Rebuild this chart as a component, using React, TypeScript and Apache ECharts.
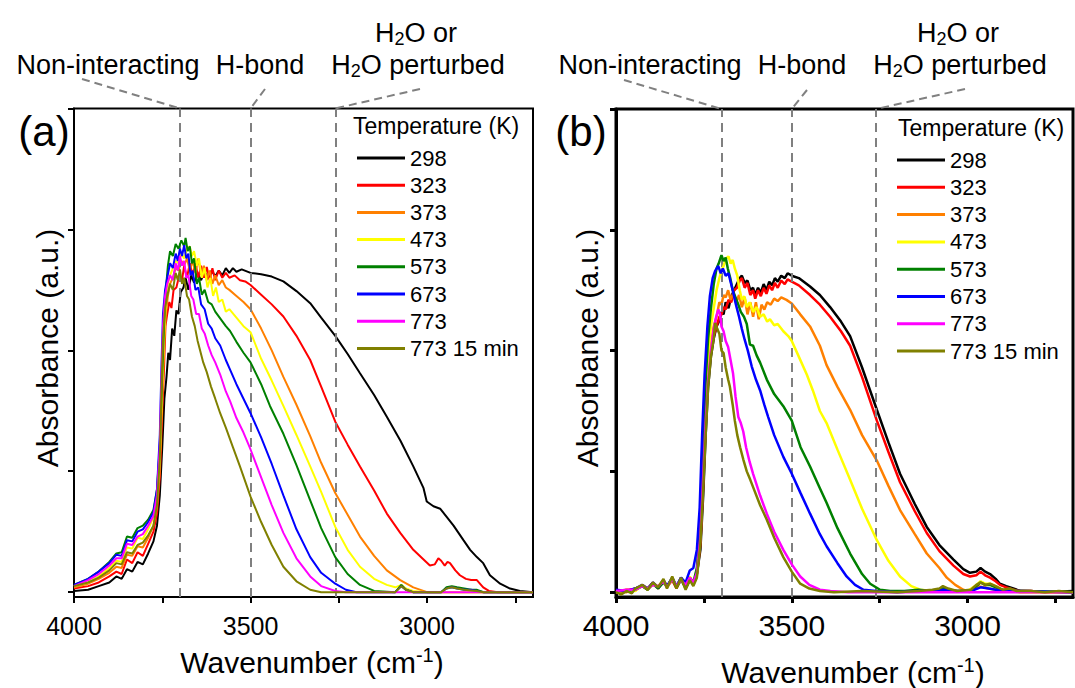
import React, { useEffect, useRef } from 'react';
import * as echarts from 'echarts';

const TEMPS = ['298', '323', '373', '473', '573', '673', '773', '773 15 min'];
const COLORS = ['#000000', '#ff0000', '#ff8000', '#ffff00', '#008000', '#0000ff', '#ff00ff', '#808000'];
const X_TICKS = [2750, 3000, 3250, 3500, 3750, 4000];
const X_LABELS = [3000, 3500, 4000];
const Y_TICKS = [0, 1, 2, 3, 4];
const REGION_LINES = [3700, 3500, 3260];

// ---- Panel (a) ----
const A_298: number[][] = [[4000,0.01],[3960,0.02],[3930,0.05],[3900,0.08],[3880,0.13],[3865,0.11],[3850,0.19],[3835,0.17],[3820,0.25],[3805,0.23],[3790,0.32],[3775,0.42],[3765,0.55],[3757,0.8],[3750,1.2],[3744,1.6],[3738,1.78],[3733,1.98],[3728,1.92],[3722,2.18],[3716,2.12],[3710,2.33],[3704,2.3],[3698,2.48],[3690,2.52],[3684,2.6],[3676,2.5],[3668,2.62],[3660,2.56],[3650,2.64],[3640,2.58],[3630,2.65],[3620,2.6],[3610,2.66],[3600,2.61],[3590,2.66],[3580,2.62],[3570,2.68],[3560,2.64],[3550,2.68],[3540,2.65],[3525,2.67],[3500,2.64],[3470,2.63],[3440,2.61],[3407,2.57],[3370,2.49],[3331,2.39],[3300,2.27],[3260,2.12],[3225,1.97],[3190,1.81],[3150,1.63],[3114,1.45],[3075,1.25],[3039,1.04],[3010,0.86],[3001,0.75],[2982,0.71],[2963,0.69],[2944,0.62],[2925,0.55],[2897,0.43],[2878,0.35],[2859,0.29],[2841,0.24],[2822,0.14],[2793,0.07],[2765,0.03],[2737,0.01],[2700,0]];
const A_323: number[][] = [[4000,0.03],[3960,0.05],[3930,0.08],[3900,0.13],[3880,0.17],[3865,0.15],[3850,0.27],[3835,0.24],[3820,0.33],[3805,0.3],[3790,0.4],[3775,0.5],[3765,0.65],[3757,0.95],[3750,1.5],[3745,1.85],[3741,2.2],[3736,2.3],[3730,2.4],[3724,2.35],[3718,2.5],[3710,2.52],[3702,2.62],[3694,2.58],[3688,2.7],[3680,2.6],[3672,2.72],[3664,2.62],[3656,2.72],[3648,2.6],[3640,2.7],[3632,2.6],[3624,2.69],[3616,2.58],[3608,2.68],[3600,2.58],[3590,2.66],[3580,2.6],[3570,2.64],[3560,2.6],[3545,2.62],[3530,2.58],[3515,2.57],[3500,2.54],[3470,2.46],[3440,2.38],[3407,2.28],[3370,2.12],[3331,1.92],[3300,1.7],[3260,1.41],[3225,1.22],[3190,1.04],[3150,0.84],[3114,0.65],[3076,0.49],[3039,0.35],[3010,0.27],[2992,0.22],[2978,0.23],[2968,0.28],[2960,0.26],[2950,0.22],[2942,0.25],[2935,0.24],[2920,0.18],[2907,0.14],[2890,0.11],[2875,0.1],[2859,0.1],[2841,0.04],[2825,0.01],[2800,0],[2700,0]];
const A_373: number[][] = [[4000,0.04],[3960,0.07],[3930,0.11],[3900,0.16],[3880,0.21],[3865,0.2],[3850,0.31],[3835,0.3],[3820,0.38],[3805,0.37],[3790,0.45],[3775,0.55],[3765,0.7],[3757,1.0],[3750,1.6],[3745,2.0],[3740,2.3],[3734,2.45],[3728,2.55],[3720,2.6],[3712,2.68],[3704,2.66],[3696,2.74],[3688,2.7],[3680,2.76],[3672,2.66],[3664,2.74],[3656,2.64],[3648,2.76],[3640,2.62],[3632,2.7],[3624,2.58],[3616,2.66],[3608,2.55],[3600,2.62],[3590,2.54],[3580,2.58],[3570,2.52],[3560,2.5],[3540,2.45],[3520,2.4],[3500,2.34],[3470,2.18],[3440,2.0],[3407,1.78],[3370,1.55],[3331,1.29],[3300,1.07],[3260,0.82],[3225,0.64],[3190,0.46],[3150,0.3],[3114,0.18],[3076,0.1],[3039,0.04],[3000,0],[2700,0]];
const A_473: number[][] = [[4000,0.05],[3960,0.08],[3930,0.13],[3900,0.2],[3880,0.26],[3865,0.25],[3850,0.37],[3835,0.36],[3820,0.45],[3805,0.44],[3790,0.52],[3775,0.62],[3765,0.78],[3757,1.1],[3750,1.7],[3745,2.1],[3740,2.4],[3734,2.55],[3728,2.62],[3720,2.68],[3712,2.74],[3704,2.72],[3696,2.8],[3688,2.76],[3680,2.84],[3672,2.86],[3666,2.78],[3660,2.82],[3652,2.7],[3646,2.76],[3638,2.6],[3630,2.68],[3622,2.52],[3614,2.6],[3606,2.45],[3598,2.52],[3590,2.4],[3580,2.42],[3570,2.32],[3560,2.34],[3540,2.27],[3520,2.2],[3500,2.15],[3470,1.93],[3440,1.75],[3407,1.54],[3370,1.3],[3331,1.04],[3300,0.83],[3260,0.54],[3225,0.35],[3190,0.21],[3150,0.11],[3114,0.06],[3090,0.04],[3073,0.06],[3060,0.03],[3040,0.01],[3000,0],[2700,0]];
const A_573: number[][] = [[4000,0.06],[3960,0.11],[3930,0.17],[3900,0.25],[3880,0.32],[3865,0.33],[3850,0.46],[3835,0.45],[3820,0.53],[3805,0.55],[3790,0.6],[3775,0.68],[3765,0.85],[3757,1.2],[3750,1.8],[3745,2.2],[3740,2.5],[3734,2.7],[3728,2.82],[3720,2.78],[3712,2.88],[3704,2.84],[3696,2.91],[3688,2.86],[3684,2.93],[3678,2.82],[3672,2.86],[3666,2.72],[3660,2.76],[3652,2.55],[3646,2.6],[3638,2.46],[3630,2.5],[3620,2.4],[3610,2.38],[3600,2.32],[3585,2.26],[3570,2.2],[3558,2.16],[3540,2.07],[3520,1.98],[3500,1.9],[3470,1.72],[3445,1.54],[3407,1.31],[3370,1.05],[3331,0.76],[3300,0.53],[3260,0.29],[3225,0.15],[3190,0.06],[3150,0.01],[3090,0],[3073,0.06],[3060,0.02],[3040,0],[2960,0],[2945,0.04],[2930,0.05],[2915,0.04],[2895,0.03],[2875,0.02],[2860,0.02],[2840,0],[2700,0]];
const A_673: number[][] = [[4000,0.06],[3960,0.11],[3930,0.17],[3900,0.24],[3880,0.31],[3865,0.3],[3850,0.43],[3835,0.42],[3820,0.5],[3805,0.52],[3790,0.58],[3775,0.66],[3765,0.85],[3757,1.3],[3752,1.9],[3748,2.3],[3742,2.5],[3736,2.6],[3728,2.72],[3720,2.68],[3712,2.8],[3706,2.74],[3700,2.84],[3694,2.78],[3688,2.87],[3682,2.76],[3676,2.8],[3670,2.62],[3664,2.66],[3656,2.5],[3648,2.52],[3640,2.38],[3630,2.34],[3620,2.22],[3610,2.18],[3600,2.1],[3586,2.04],[3570,1.92],[3558,1.84],[3540,1.72],[3520,1.6],[3500,1.48],[3470,1.28],[3440,1.06],[3407,0.8],[3370,0.52],[3331,0.29],[3300,0.16],[3260,0.07],[3230,0.02],[3200,0],[3090,0],[3073,0.05],[3060,0.02],[3040,0],[2960,0],[2945,0.03],[2930,0.04],[2915,0.03],[2895,0.02],[2875,0.02],[2860,0.01],[2840,0],[2700,0]];
const A_773: number[][] = [[4000,0.05],[3960,0.1],[3930,0.15],[3900,0.22],[3880,0.28],[3865,0.28],[3850,0.4],[3835,0.39],[3820,0.46],[3805,0.48],[3790,0.55],[3775,0.63],[3765,0.8],[3757,1.2],[3752,1.8],[3748,2.2],[3742,2.45],[3736,2.55],[3728,2.62],[3720,2.58],[3712,2.72],[3706,2.66],[3700,2.78],[3694,2.7],[3688,2.74],[3682,2.6],[3676,2.62],[3668,2.45],[3662,2.42],[3654,2.3],[3646,2.3],[3638,2.18],[3630,2.14],[3620,2.04],[3610,1.96],[3600,1.9],[3586,1.8],[3570,1.66],[3558,1.58],[3540,1.44],[3520,1.32],[3500,1.18],[3470,0.95],[3440,0.72],[3407,0.49],[3370,0.28],[3331,0.13],[3300,0.05],[3260,0.01],[3230,0],[2700,0]];
const A_773_15: number[][] = [[4000,0.05],[3960,0.08],[3930,0.12],[3900,0.18],[3880,0.24],[3865,0.23],[3850,0.33],[3835,0.32],[3820,0.39],[3805,0.41],[3790,0.47],[3775,0.55],[3765,0.72],[3757,1.1],[3752,1.7],[3748,2.1],[3742,2.35],[3736,2.45],[3728,2.55],[3720,2.5],[3712,2.64],[3706,2.58],[3700,2.67],[3694,2.55],[3688,2.6],[3680,2.45],[3674,2.42],[3666,2.28],[3658,2.2],[3650,2.08],[3643,2.0],[3634,1.9],[3624,1.82],[3612,1.7],[3600,1.6],[3586,1.48],[3570,1.36],[3550,1.2],[3530,1.04],[3500,0.79],[3470,0.58],[3440,0.39],[3407,0.21],[3370,0.09],[3331,0.02],[3300,0],[3090,0],[3073,0.05],[3060,0.02],[3040,0],[2960,0],[2945,0.03],[2930,0.04],[2915,0.03],[2895,0.02],[2860,0.01],[2840,0],[2700,0]];

// ---- Panel (b) ----
const B_298: number[][] = [[4000,0],[3970,0.01],[3945,0.03],[3925,0.05],[3910,0.03],[3895,0.07],[3880,0.04],[3865,0.09],[3855,0.05],[3840,0.11],[3828,0.04],[3815,0.12],[3802,0.03],[3790,0.1],[3780,0.08],[3770,0.15],[3760,0.35],[3752,0.8],[3745,1.3],[3738,1.7],[3730,1.95],[3722,2.1],[3714,2.2],[3706,2.25],[3700,2.32],[3694,2.3],[3688,2.4],[3680,2.35],[3672,2.45],[3664,2.5],[3656,2.55],[3648,2.6],[3642,2.62],[3634,2.56],[3626,2.58],[3618,2.5],[3610,2.52],[3604,2.46],[3596,2.52],[3588,2.48],[3580,2.55],[3572,2.5],[3564,2.57],[3556,2.54],[3548,2.6],[3540,2.57],[3530,2.62],[3520,2.6],[3512,2.64],[3500,2.62],[3480,2.6],[3448,2.53],[3420,2.46],[3391,2.36],[3360,2.24],[3334,2.12],[3300,1.86],[3258,1.51],[3225,1.24],[3192,0.98],[3150,0.73],[3116,0.54],[3080,0.39],[3040,0.27],[3012,0.19],[2993,0.16],[2975,0.17],[2963,0.2],[2950,0.17],[2936,0.15],[2920,0.11],[2908,0.07],[2890,0.05],[2870,0.03],[2850,0.01],[2820,0.01],[2780,0],[2700,0.01]];
const B_323: number[][] = [[4000,0],[3970,0.02],[3945,0.02],[3925,0.06],[3910,0.03],[3895,0.08],[3880,0.03],[3865,0.1],[3855,0.05],[3840,0.1],[3828,0.03],[3815,0.11],[3802,0.04],[3790,0.12],[3780,0.06],[3770,0.14],[3760,0.4],[3752,0.9],[3745,1.4],[3738,1.8],[3730,2.0],[3722,2.12],[3714,2.2],[3706,2.28],[3700,2.3],[3694,2.36],[3688,2.34],[3680,2.42],[3672,2.4],[3664,2.5],[3656,2.52],[3648,2.58],[3642,2.6],[3634,2.52],[3626,2.56],[3618,2.46],[3610,2.5],[3604,2.43],[3596,2.5],[3588,2.45],[3580,2.52],[3572,2.47],[3564,2.54],[3556,2.5],[3548,2.56],[3540,2.52],[3530,2.58],[3520,2.55],[3512,2.59],[3500,2.57],[3480,2.54],[3448,2.46],[3420,2.38],[3391,2.28],[3360,2.16],[3334,2.04],[3300,1.78],[3258,1.42],[3225,1.16],[3192,0.91],[3150,0.67],[3116,0.49],[3080,0.34],[3040,0.22],[3012,0.15],[2993,0.13],[2975,0.14],[2963,0.17],[2950,0.14],[2936,0.12],[2920,0.09],[2908,0.06],[2890,0.04],[2870,0.02],[2850,0.01],[2820,0.01],[2780,0],[2700,0]];
const B_373: number[][] = [[4000,0.01],[3970,0],[3945,0.03],[3925,0.05],[3910,0.02],[3895,0.07],[3880,0.04],[3865,0.09],[3855,0.04],[3840,0.1],[3828,0.04],[3815,0.12],[3802,0.05],[3790,0.11],[3780,0.07],[3770,0.16],[3760,0.45],[3752,1.0],[3745,1.5],[3738,1.85],[3730,2.05],[3722,2.2],[3714,2.28],[3706,2.4],[3700,2.38],[3694,2.46],[3688,2.44],[3681,2.5],[3674,2.42],[3666,2.48],[3658,2.4],[3650,2.46],[3642,2.36],[3634,2.44],[3626,2.3],[3618,2.4],[3610,2.28],[3602,2.4],[3594,2.26],[3586,2.38],[3578,2.34],[3570,2.4],[3560,2.38],[3550,2.43],[3540,2.41],[3530,2.44],[3515,2.42],[3500,2.39],[3476,2.3],[3448,2.2],[3420,2.04],[3401,1.88],[3370,1.7],[3334,1.51],[3300,1.3],[3258,1.09],[3225,0.88],[3192,0.68],[3150,0.48],[3116,0.32],[3080,0.2],[3059,0.12],[3035,0.06],[3012,0.02],[2995,0],[2970,0.05],[2955,0.04],[2940,0.03],[2920,0.02],[2900,0.01],[2880,0.02],[2850,0],[2700,0]];
const B_473: number[][] = [[4000,0],[3970,0.02],[3945,0.01],[3925,0.06],[3910,0.03],[3895,0.06],[3880,0.05],[3865,0.1],[3855,0.04],[3840,0.12],[3828,0.05],[3815,0.1],[3802,0.05],[3790,0.13],[3780,0.07],[3770,0.18],[3760,0.5],[3752,1.1],[3745,1.6],[3738,1.95],[3730,2.2],[3722,2.35],[3714,2.5],[3706,2.6],[3700,2.66],[3694,2.7],[3688,2.76],[3680,2.78],[3674,2.72],[3668,2.75],[3662,2.68],[3655,2.62],[3648,2.5],[3642,2.42],[3635,2.45],[3628,2.36],[3620,2.4],[3610,2.32],[3600,2.36],[3590,2.28],[3580,2.3],[3570,2.24],[3562,2.26],[3550,2.21],[3540,2.22],[3524,2.16],[3510,2.12],[3500,2.08],[3480,1.95],[3457,1.8],[3440,1.67],[3420,1.5],[3401,1.4],[3370,1.18],[3334,0.93],[3300,0.69],[3258,0.43],[3225,0.26],[3192,0.13],[3160,0.05],[3135,0.02],[3100,0.01],[3080,0.02],[3070,0.04],[3055,0.02],[3030,0.01],[3000,0.01],[2975,0.06],[2963,0.09],[2950,0.07],[2936,0.07],[2920,0.05],[2900,0.02],[2880,0.01],[2850,0],[2700,0]];
const B_573: number[][] = [[4000,0.01],[3970,0.01],[3945,0.02],[3925,0.05],[3910,0.02],[3895,0.07],[3880,0.03],[3865,0.08],[3855,0.05],[3840,0.11],[3828,0.04],[3815,0.1],[3802,0.04],[3790,0.12],[3780,0.08],[3770,0.2],[3760,0.55],[3752,1.2],[3745,1.75],[3738,2.1],[3730,2.35],[3722,2.55],[3714,2.68],[3708,2.72],[3700,2.79],[3694,2.74],[3688,2.77],[3682,2.68],[3675,2.6],[3668,2.5],[3660,2.44],[3652,2.38],[3645,2.32],[3636,2.28],[3628,2.22],[3619,2.05],[3610,2.04],[3600,1.96],[3590,1.9],[3571,1.76],[3550,1.64],[3524,1.54],[3500,1.42],[3475,1.2],[3448,1.04],[3420,0.86],[3401,0.74],[3370,0.53],[3334,0.32],[3300,0.15],[3277,0.07],[3249,0.02],[3220,0.01],[3180,0.01],[3140,0.02],[3100,0.01],[3080,0.02],[3070,0.04],[3055,0.02],[3030,0.01],[2990,0.01],[2975,0.05],[2963,0.08],[2950,0.06],[2936,0.06],[2920,0.04],[2900,0.02],[2880,0.01],[2850,0.01],[2700,0]];
const B_673: number[][] = [[4000,0.02],[3970,0.01],[3945,0.03],[3925,0.06],[3910,0.03],[3895,0.08],[3880,0.04],[3865,0.1],[3855,0.05],[3840,0.12],[3828,0.05],[3815,0.12],[3802,0.08],[3790,0.18],[3780,0.2],[3770,0.35],[3762,0.7],[3755,1.3],[3748,1.8],[3740,2.2],[3733,2.45],[3725,2.6],[3718,2.66],[3709,2.7],[3702,2.64],[3696,2.68],[3688,2.62],[3680,2.64],[3675,2.58],[3668,2.5],[3662,2.42],[3657,2.36],[3650,2.28],[3642,2.18],[3634,2.09],[3625,2.0],[3614,1.87],[3602,1.76],[3590,1.67],[3578,1.55],[3567,1.45],[3550,1.3],[3524,1.12],[3500,0.98],[3475,0.82],[3448,0.65],[3420,0.48],[3401,0.38],[3370,0.24],[3344,0.13],[3320,0.06],[3296,0.02],[3260,0.01],[3200,0],[3140,0.01],[3100,0.01],[3070,0.02],[3040,0.01],[2990,0.01],[2963,0.04],[2940,0.03],[2900,0.01],[2850,0.01],[2700,0]];
const B_773: number[][] = [[4000,0.01],[3970,0.02],[3945,0.02],[3925,0.05],[3910,0.03],[3895,0.06],[3880,0.05],[3865,0.09],[3855,0.04],[3840,0.11],[3828,0.05],[3815,0.1],[3802,0.06],[3790,0.12],[3780,0.08],[3770,0.16],[3760,0.45],[3752,0.95],[3745,1.4],[3738,1.75],[3730,2.0],[3722,2.18],[3715,2.28],[3709,2.34],[3704,2.3],[3700,2.2],[3694,2.16],[3688,2.08],[3681,2.03],[3674,1.92],[3667,1.81],[3660,1.62],[3652,1.45],[3645,1.4],[3638,1.33],[3630,1.2],[3620,1.08],[3610,0.98],[3590,0.8],[3571,0.65],[3550,0.5],[3524,0.35],[3500,0.23],[3476,0.13],[3450,0.06],[3420,0.02],[3390,0.01],[3340,0],[2700,0]];
const B_773_15: number[][] = [[4000,0],[3985,-0.02],[3970,0.01],[3955,-0.01],[3945,0.03],[3925,0.06],[3910,0.02],[3895,0.08],[3880,0.04],[3865,0.11],[3855,0.03],[3840,0.13],[3828,0.03],[3815,0.12],[3802,0.02],[3790,0.1],[3780,0.05],[3770,0.12],[3760,0.4],[3752,0.85],[3745,1.3],[3738,1.7],[3730,1.95],[3722,2.1],[3718,2.23],[3712,2.18],[3706,2.14],[3700,2.0],[3694,1.98],[3688,1.86],[3681,1.76],[3676,1.7],[3668,1.55],[3662,1.42],[3655,1.3],[3647,1.2],[3638,1.1],[3628,1.0],[3618,0.93],[3610,0.87],[3590,0.72],[3571,0.6],[3550,0.45],[3524,0.29],[3500,0.17],[3476,0.07],[3450,0.03],[3420,0.01],[3380,0],[3300,0.01],[3200,0],[3140,0.01],[3100,0.02],[3080,0.03],[3070,0.05],[3055,0.03],[3030,0.01],[2990,0.02],[2975,0.06],[2963,0.08],[2950,0.06],[2936,0.07],[2920,0.05],[2900,0.02],[2880,0.03],[2860,0.01],[2820,0.01],[2780,0],[2740,0.01],[2700,0]];

const PANEL_A = [A_298, A_323, A_373, A_473, A_573, A_673, A_773, A_773_15];
const PANEL_B = [B_298, B_323, B_373, B_473, B_573, B_673, B_773, B_773_15];

const FONT = '"Liberation Sans", Arial, sans-serif';

function axisPair(grid: number, bw: number, labelSize: number, labelMargin: number) {
  const xAxis = {
    gridIndex: grid, type: 'value', min: 2700, max: 4000, inverse: true,
    axisLine: { show: true, onZero: false, lineStyle: { color: '#000', width: bw } },
    axisTick: { show: true, length: 6, customValues: X_TICKS, lineStyle: { color: '#000', width: bw } },
    axisLabel: {
      show: true, customValues: X_LABELS, fontSize: labelSize, color: '#000', fontFamily: FONT, margin: labelMargin,
      formatter: (v: number) => String(v),
    },
    splitLine: { show: false },
  };
  const yAxis = {
    gridIndex: grid, type: 'value', min: -0.04, max: 4,
    axisLine: { show: true, onZero: false, lineStyle: { color: '#000', width: bw } },
    axisTick: { show: true, length: 6, customValues: Y_TICKS, lineStyle: { color: '#000', width: bw } },
    axisLabel: { show: false },
    splitLine: { show: false },
  };
  return { xAxis, yAxis };
}

function buildSeries(panel: number[][][], idx: number, width: number) {
  return panel.map((d, i) => {
    const s: any = {
      type: 'line', name: TEMPS[i], xAxisIndex: idx, yAxisIndex: idx, data: d,
      showSymbol: false, symbol: 'none', clip: true, z: 2 + i,
      lineStyle: { color: COLORS[i], width }, itemStyle: { color: COLORS[i] },
      emphasis: { disabled: true },
    };
    if (i === panel.length - 1) {
      s.markLine = {
        silent: true, symbol: 'none', label: { show: false },
        lineStyle: { color: '#808080', type: [9, 6], width: 2 },
        emphasis: { disabled: true },
        data: REGION_LINES.map((x) => ({ xAxis: x })),
      };
    }
    return s;
  });
}

function legend(left: number, top: number, gap: number) {
  return {
    data: TEMPS, left, top, orient: 'vertical', itemGap: gap, itemWidth: 48, itemHeight: 3,
    icon: 'rect', padding: 0, selectedMode: false,
    textStyle: { fontSize: 22, lineHeight: 22, color: '#000', fontFamily: FONT },
  };
}

function richText(text: string, x: number, y: number, size: number, mainLH: number, smallLH: number) {
  const small = Math.round(size * 0.66);
  return {
    type: 'text', x, y, silent: true,
    style: {
      text, align: 'center', verticalAlign: 'middle', fill: '#000',
      font: `${size}px ${FONT}`,
      rich: {
        n: { fontSize: size, fontFamily: FONT, lineHeight: mainLH, color: '#000' },
        sub: { fontSize: small, fontFamily: FONT, lineHeight: smallLH, verticalAlign: 'bottom', color: '#000' },
        sup: { fontSize: small, fontFamily: FONT, lineHeight: smallLH, verticalAlign: 'top', color: '#000' },
      },
    },
  };
}

export default function App() {
  const ref = useRef<HTMLDivElement>(null);
  useEffect(() => {
    if (!ref.current) return;
    const chart = echarts.init(ref.current, null, { renderer: 'svg' });
    const a = axisPair(0, 2, 25, 16);
    const b = axisPair(1, 3, 30, 13);
    chart.setOption({
      animation: false,
      backgroundColor: '#fff',
      grid: [
        { left: 74, top: 108.5, width: 459, height: 488.5, show: true, borderColor: '#000', borderWidth: 2, backgroundColor: 'transparent' },
        { left: 616, top: 109, width: 457, height: 488, show: true, borderColor: '#000', borderWidth: 3, backgroundColor: 'transparent' },
      ],
      xAxis: [a.xAxis, b.xAxis],
      yAxis: [a.yAxis, b.yAxis],
      legend: [legend(357, 147, 5.2), legend(897, 149, 5.3)],
      series: [...buildSeries(PANEL_A, 0, 2), ...buildSeries(PANEL_B, 1, 2.5)],
    });

    const topA = 108.5;
    const topB = 109;
    const px = (axis: number, v: number) => chart.convertToPixel({ xAxisIndex: axis }, v) as number;
    const conn = (x1: number, y1: number, x2: number, y2: number) => ({
      type: 'line', silent: true,
      shape: { x1, y1, x2, y2 },
      style: { stroke: '#808080', lineWidth: 2, lineDash: [8, 5] },
    });
    const ann = (dx: number) => [
      richText('{n|Non-interacting}', 108 + dx, 65, 27, 30, 14),
      richText('{n|H-bond}', 260 + dx, 65, 27, 30, 14),
      richText('{n|H}{sub|2}{n|O perturbed}', 418 + dx, 65, 27, 30, 14),
      richText('{n|H}{sub|2}{n|O or}', 416 + dx, 33, 27, 30, 14),
    ];
    const graphic: any[] = [
      ...ann(0),
      ...ann(542),
      conn(82, 79, px(0, REGION_LINES[0]), topA),
      conn(265, 89, px(0, REGION_LINES[1]), topA),
      conn(420, 89, px(0, REGION_LINES[2]), topA),
      conn(624, 80, px(1, REGION_LINES[0]), topB),
      conn(807, 90, px(1, REGION_LINES[1]), topB),
      conn(965, 89, px(1, REGION_LINES[2]), topB),
      { type: 'text', x: 44, y: 131, silent: true, style: { text: '(a)', font: `42px ${FONT}`, fill: '#000', align: 'center', verticalAlign: 'middle' } },
      { type: 'text', x: 581, y: 131, silent: true, style: { text: '(b)', font: `42px ${FONT}`, fill: '#000', align: 'center', verticalAlign: 'middle' } },
      { type: 'text', x: 47, y: 348, rotation: Math.PI / 2, silent: true, style: { text: 'Absorbance (a.u.)', font: `30px ${FONT}`, fill: '#000', align: 'center', verticalAlign: 'middle' } },
      { type: 'text', x: 587, y: 348, rotation: Math.PI / 2, silent: true, style: { text: 'Absorbance (a.u.)', font: `30px ${FONT}`, fill: '#000', align: 'center', verticalAlign: 'middle' } },
      richText('{n|Wavenumber (cm}{sup|-1}{n|)}', 312, 662, 30, 34, 20),
      richText('{n|Wavenumber (cm}{sup|-1}{n|)}', 853, 672, 30, 34, 20),
      { type: 'text', x: 353, y: 126, silent: true, style: { text: 'Temperature (K)', font: `23px ${FONT}`, fill: '#000', align: 'left', verticalAlign: 'middle' } },
      { type: 'text', x: 898, y: 128, silent: true, style: { text: 'Temperature (K)', font: `23px ${FONT}`, fill: '#000', align: 'left', verticalAlign: 'middle' } },
    ];
    chart.setOption({ graphic });
    return () => chart.dispose();
  }, []);
  return <div ref={ref} style={{ position: 'absolute', left: 0, top: 0, width: 1075, height: 688 }} />;
}
